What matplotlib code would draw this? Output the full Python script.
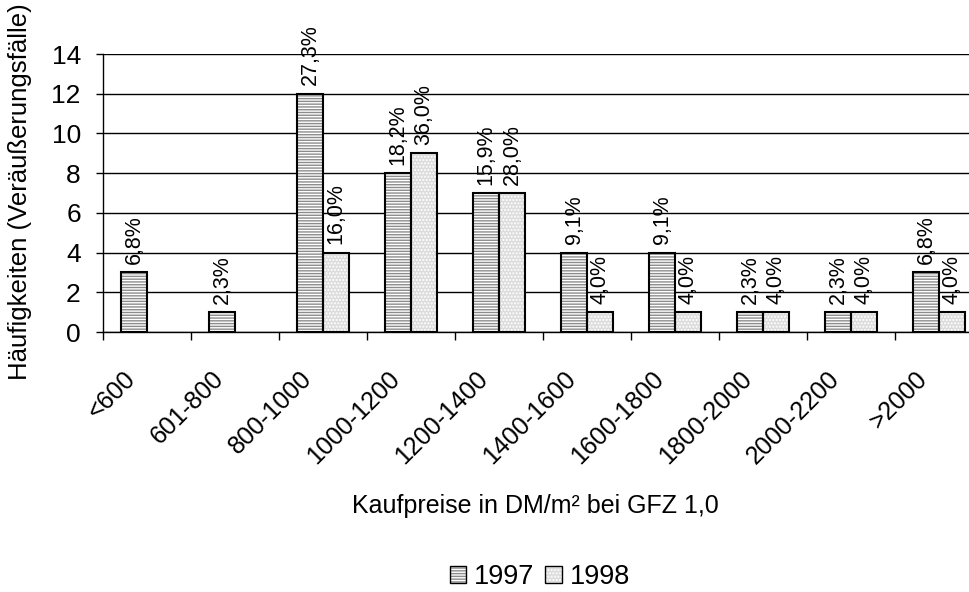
import matplotlib.pyplot as plt
import matplotlib.patches as mpatches
import numpy as np

plt.rcParams['font.family'] = ['Liberation Sans', 'DejaVu Sans']

# price classes and number of sales per year
categories = ['<600', '601-800', '800-1000', '1000-1200', '1200-1400',
              '1400-1600', '1600-1800', '1800-2000', '2000-2200', '>2000']
count_1997 = [3, 1, 12, 8, 7, 4, 4, 1, 1, 3]
count_1998 = [0, 0, 4, 9, 7, 1, 1, 1, 1, 1]
pct_1997 = ['6,8%', '2,3%', '27,3%', '18,2%', '15,9%', '9,1%', '9,1%', '2,3%', '2,3%', '6,8%']
pct_1998 = ['', '', '16,0%', '36,0%', '28,0%', '4,0%', '4,0%', '4,0%', '4,0%', '4,0%']
yticks = [0, 2, 4, 6, 8, 10, 12, 14]

fig = plt.figure(figsize=(9.7, 5.92), dpi=100)
ax = fig.add_axes([103/970, 1-332/592, 880/970, 278/592])

x = np.arange(len(categories))
w = 0.295

def hatched_bars(xpos, vals, face, hatch, hcolor):
    # empty classes get no bar at all
    xpos = np.asarray(xpos)
    vals = np.asarray(vals)
    keep = vals > 0
    # fill + hatch first, then black outline on top
    ax.bar(xpos[keep], vals[keep], w, color=face, hatch=hatch, edgecolor=hcolor, linewidth=0, zorder=2)
    ax.bar(xpos[keep], vals[keep], w, fill=False, edgecolor='black', linewidth=1.5, zorder=3)

plt.rcParams['hatch.linewidth'] = 1.0
hatched_bars(x - w/2, count_1997, 'white', '------', '#8c8c8c')
hatched_bars(x + w/2, count_1998, '#dcdcdc', '.....', 'white')

for i in range(len(categories)):
    if count_1997[i] > 0:
        ax.annotate(pct_1997[i], (x[i] - w/2, count_1997[i]), xytext=(0, 6),
                    textcoords='offset points', rotation=90, ha='center', va='bottom', fontsize=15.5)
    if count_1998[i] > 0:
        ax.annotate(pct_1998[i], (x[i] + w/2, count_1998[i]), xytext=(0, 6),
                    textcoords='offset points', rotation=90, ha='center', va='bottom', fontsize=15.5)

ax.set_xlim(-0.5, len(categories) - 0.5)
ax.set_ylim(0, 14)
ax.set_yticks(yticks)
ax.tick_params(axis='y', labelsize=19, length=5, width=1, direction='out', pad=11)
ax.yaxis.grid(True, color='black', linewidth=1)
ax.set_axisbelow(True)

# tick marks sit between the classes; the rotated labels end a bit left of the class centre
ax.set_xticks(x - 0.5, minor=True)
ax.set_xticks(x - 0.27)
ax.set_xticklabels(categories, rotation=45, ha='right', va='top', rotation_mode='anchor', fontsize=18)
ax.tick_params(axis='x', which='major', length=0, pad=25)
ax.tick_params(axis='x', which='minor', length=6, width=1, direction='out')

for s in ['top', 'right']:
    ax.spines[s].set_visible(False)
ax.spines['left'].set_linewidth(1)
ax.spines['bottom'].set_linewidth(1)

fig.text(535/970, 1-513/592, 'Kaufpreise in DM/m² bei GFZ 1,0', ha='center', va='baseline', fontsize=18)
fig.text(20/970, 1-192/592, 'Häufigkeiten (Veräußerungsfälle)', rotation=90, ha='center', va='center', fontsize=18.5)

h97 = (mpatches.Patch(facecolor='white', hatch='------', edgecolor='#8c8c8c', linewidth=0),
       mpatches.Patch(fill=False, edgecolor='black', linewidth=1))
h98 = (mpatches.Patch(facecolor='#dcdcdc', hatch='.....', edgecolor='white', linewidth=0),
       mpatches.Patch(fill=False, edgecolor='black', linewidth=1))
fig.legend([h97, h98], ['1997', '1998'], loc='center', bbox_to_anchor=(540/970, 1-577/592),
           ncol=2, frameon=False, fontsize=19.5, handlelength=0.6, handleheight=0.6,
           handletextpad=0.3, columnspacing=0.4, borderpad=0)

fig.savefig('out.png', dpi=100)
